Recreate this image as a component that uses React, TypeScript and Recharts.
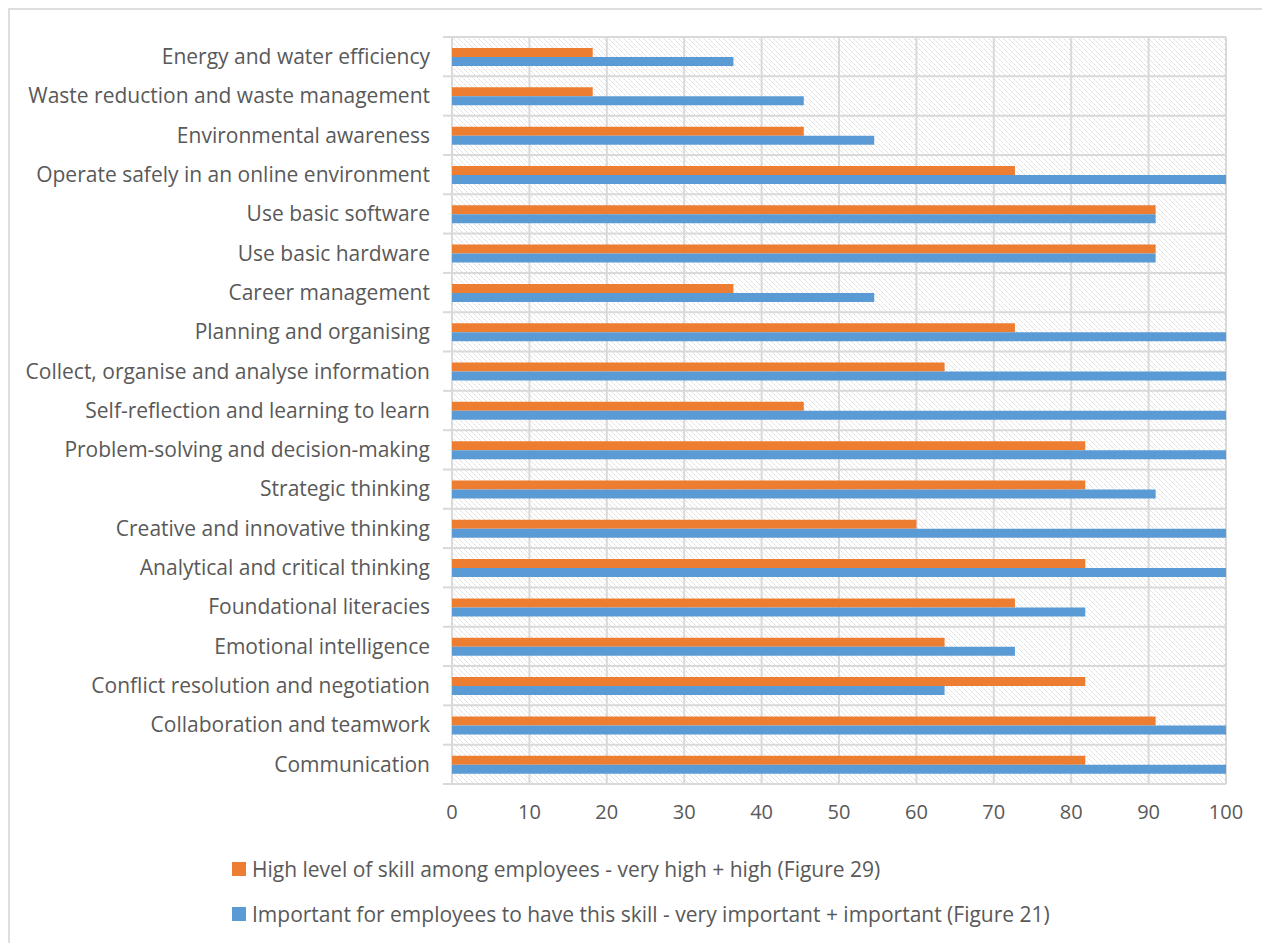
import { Bar, BarChart, CartesianGrid, Legend, XAxis, YAxis } from "recharts";

const skills = [
  "Energy and water efficiency",
  "Waste reduction and waste management",
  "Environmental awareness",
  "Operate safely in an online environment",
  "Use basic software",
  "Use basic hardware",
  "Career management",
  "Planning and organising",
  "Collect, organise and analyse information",
  "Self-reflection and learning to learn",
  "Problem-solving and decision-making",
  "Strategic thinking",
  "Creative and innovative thinking",
  "Analytical and critical thinking",
  "Foundational literacies",
  "Emotional intelligence",
  "Conflict resolution and negotiation",
  "Collaboration and teamwork",
  "Communication",
];

// Figure 29
const highSkill = [
  18.18, 18.18, 45.45, 72.73, 90.91, 90.91, 36.36, 72.73, 63.64, 45.45,
  81.82, 81.82, 60, 81.82, 72.73, 63.64, 81.82, 90.91, 81.82,
];

// Figure 21
const important = [
  36.36, 45.45, 54.55, 100, 90.91, 90.91, 54.55, 100, 100, 100,
  100, 90.91, 100, 100, 81.82, 72.73, 63.64, 100, 100,
];

const xTicks = [0, 10, 20, 30, 40, 50, 60, 70, 80, 90, 100];

const highLabel = "High level of skill among employees - very high + high (Figure 29)";
const importantLabel =
  "Important for employees to have this skill - very important + important (Figure 21)";

const data = skills.map((skill, i) => ({
  skill,
  high: highSkill[i],
  important: important[i],
}));

const FONT = "'Open Sans', 'DejaVu Sans', sans-serif";
const TEXT = "#595959";
const GRID = "#d9d9d9";
const ORANGE = "#ED7D31";
const BLUE = "#5B9BD5";

function SkillTick(props: any) {
  const { x, y, payload } = props;
  const half = payload?.offset ?? 19.66;
  const axisX = x + 22;
  const isLast = payload?.index === skills.length - 1;
  return (
    <g>
      <text
        x={x}
        y={y}
        dy="0.35em"
        textAnchor="end"
        fill={TEXT}
        fontSize={21}
        fontFamily={FONT}
      >
        {payload.value}
      </text>
      <line x1={axisX - 9} x2={axisX} y1={y - half} y2={y - half} stroke={GRID} strokeWidth={2} />
      {isLast && (
        <line x1={axisX - 9} x2={axisX} y1={y + half} y2={y + half} stroke={GRID} strokeWidth={2} />
      )}
    </g>
  );
}

function LegendRows({ payload }: any) {
  const items = payload ?? [];
  return (
    <div style={{ fontFamily: FONT, fontSize: 21, color: TEXT }}>
      {items.map((item: any, i: number) => (
        <div
          key={item.value}
          style={{
            display: "flex",
            alignItems: "center",
            height: 24,
            marginTop: i === 0 ? 0 : 21,
            whiteSpace: "nowrap",
          }}
        >
          <span
            style={{
              display: "inline-block",
              width: 14,
              height: 14,
              background: item.color,
              marginRight: 6,
            }}
          />
          {item.value}
        </div>
      ))}
    </div>
  );
}

export default function App() {
  return (
    <div style={{ position: "relative", width: 1262, height: 935, overflow: "hidden", background: "#fff" }}>
      <div
        style={{
          position: "absolute",
          left: 0,
          top: 0,
          width: 1320,
          height: 1000,
          border: "2px solid #dedede",
          boxSizing: "border-box",
        }}
      />
      <div style={{ position: "absolute", left: 0, top: 0 }}>
        <BarChart
          width={1262}
          height={935}
          data={data}
          layout="vertical"
          barCategoryGap="28%"
          barGap={0}
          margin={{ top: 29, right: 44, bottom: 50, left: 0 }}
        >
          <defs>
            <pattern id="hatch" width="5" height="5" patternUnits="userSpaceOnUse">
              <rect width="5" height="5" fill="#ffffff" />
              <path
                d="M-1,-1 L6,6 M-1,4 L1,6 M4,-1 L6,1"
                stroke="#d6d6d6"
                strokeWidth={1}
                strokeDasharray="2 1"
              />
            </pattern>
          </defs>
          <CartesianGrid
            fill="url(#hatch)"
            fillOpacity={1}
            stroke={GRID}
            strokeWidth={2}
            horizontalCoordinatesGenerator={({ offset }: any) =>
              Array.from(
                { length: skills.length + 1 },
                (_, i) => offset.top + (i * offset.height) / skills.length
              )
            }
          />
          <XAxis
            type="number"
            domain={[0, 100]}
            ticks={xTicks}
            interval={0}
            axisLine={false}
            tickLine={false}
            tickSize={0}
            tickMargin={21}
            height={40}
            tick={{ fill: TEXT, fontSize: 20, fontFamily: FONT }}
          />
          <YAxis
            type="category"
            dataKey="skill"
            width={444}
            axisLine={false}
            tickLine={false}
            tickSize={0}
            tickMargin={22}
            interval={0}
            tick={<SkillTick />}
          />
          <Legend
            content={<LegendRows />}
            wrapperStyle={{ position: "absolute", left: 224, top: 849, width: "auto" }}
          />
          <Bar dataKey="high" name={highLabel} fill={ORANGE} isAnimationActive={false} />
          <Bar dataKey="important" name={importantLabel} fill={BLUE} isAnimationActive={false} />
        </BarChart>
      </div>
    </div>
  );
}
